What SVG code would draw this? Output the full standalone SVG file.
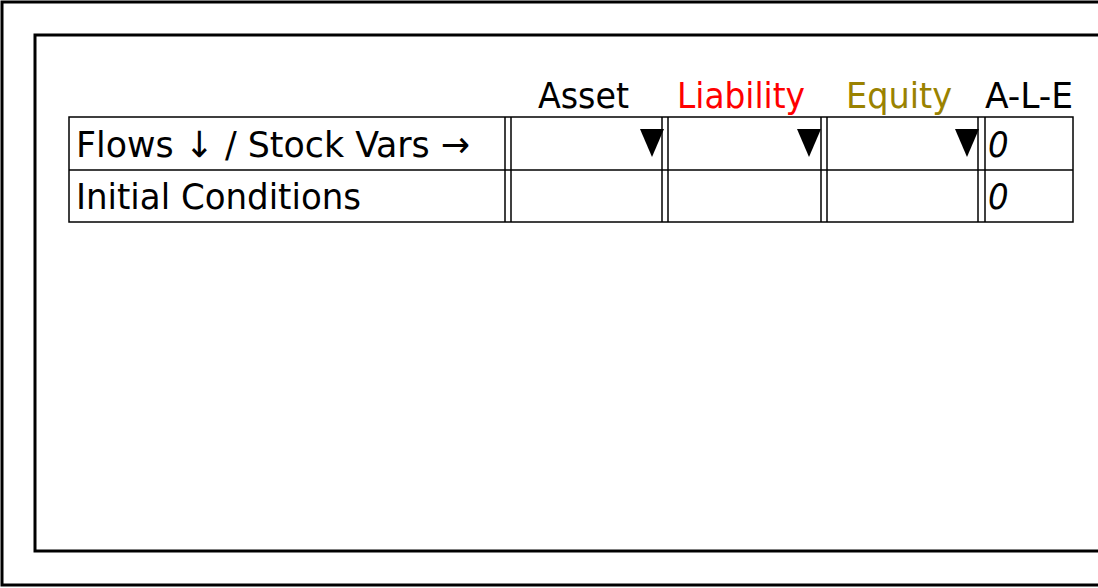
<svg xmlns="http://www.w3.org/2000/svg" width="1098" height="588" viewBox="0 0 1098 588">
<style>
.f{fill:none;stroke:#000;stroke-width:3}
.l{stroke:#000;stroke-width:1.5}
text{font-family:"DejaVu Sans Condensed","DejaVu Sans",sans-serif;font-size:36px}
</style>
<rect width="1098" height="588" fill="#fff"/>
<g id="frame">
<rect class="f" x="2" y="2" width="1110" height="583"/>
<rect class="f" x="35" y="35" width="1080" height="516"/>
</g>
<g id="headers">
<text x="538" y="108" textLength="91" lengthAdjust="spacingAndGlyphs">Asset</text>
<text x="677" y="108" fill="#ff0000" textLength="128" lengthAdjust="spacingAndGlyphs">Liability</text>
<text x="846" y="108" fill="#9a8200" textLength="106" lengthAdjust="spacingAndGlyphs">Equity</text>
<text x="985" y="108" textLength="88" lengthAdjust="spacingAndGlyphs">A-L-E</text>
</g>
<g id="table">
<rect x="69" y="117" width="1004" height="105" fill="none" stroke="#000" stroke-width="1.5"/>
<line class="l" x1="69" y1="170" x2="1073" y2="170"/>
<line class="l" x1="505" y1="117" x2="505" y2="222"/>
<line class="l" x1="511" y1="117" x2="511" y2="222"/>
<line class="l" x1="662" y1="117" x2="662" y2="222"/>
<line class="l" x1="668" y1="117" x2="668" y2="222"/>
<line class="l" x1="821" y1="117" x2="821" y2="222"/>
<line class="l" x1="827" y1="117" x2="827" y2="222"/>
<line class="l" x1="978" y1="117" x2="978" y2="222"/>
<line class="l" x1="985" y1="117" x2="985" y2="222"/>
<text x="76" y="157" textLength="394" lengthAdjust="spacingAndGlyphs">Flows ↓ / Stock Vars →</text>
<text x="76" y="209" textLength="285" lengthAdjust="spacingAndGlyphs">Initial Conditions</text>
<text x="988" y="157" font-style="italic">0</text>
<text x="988" y="209" font-style="italic">0</text>
<polygon points="640,129 664,129 652,157"/>
<polygon points="797,129 821,129 809,157"/>
<polygon points="955,129 979,129 967,157"/>
</g>
</svg>
